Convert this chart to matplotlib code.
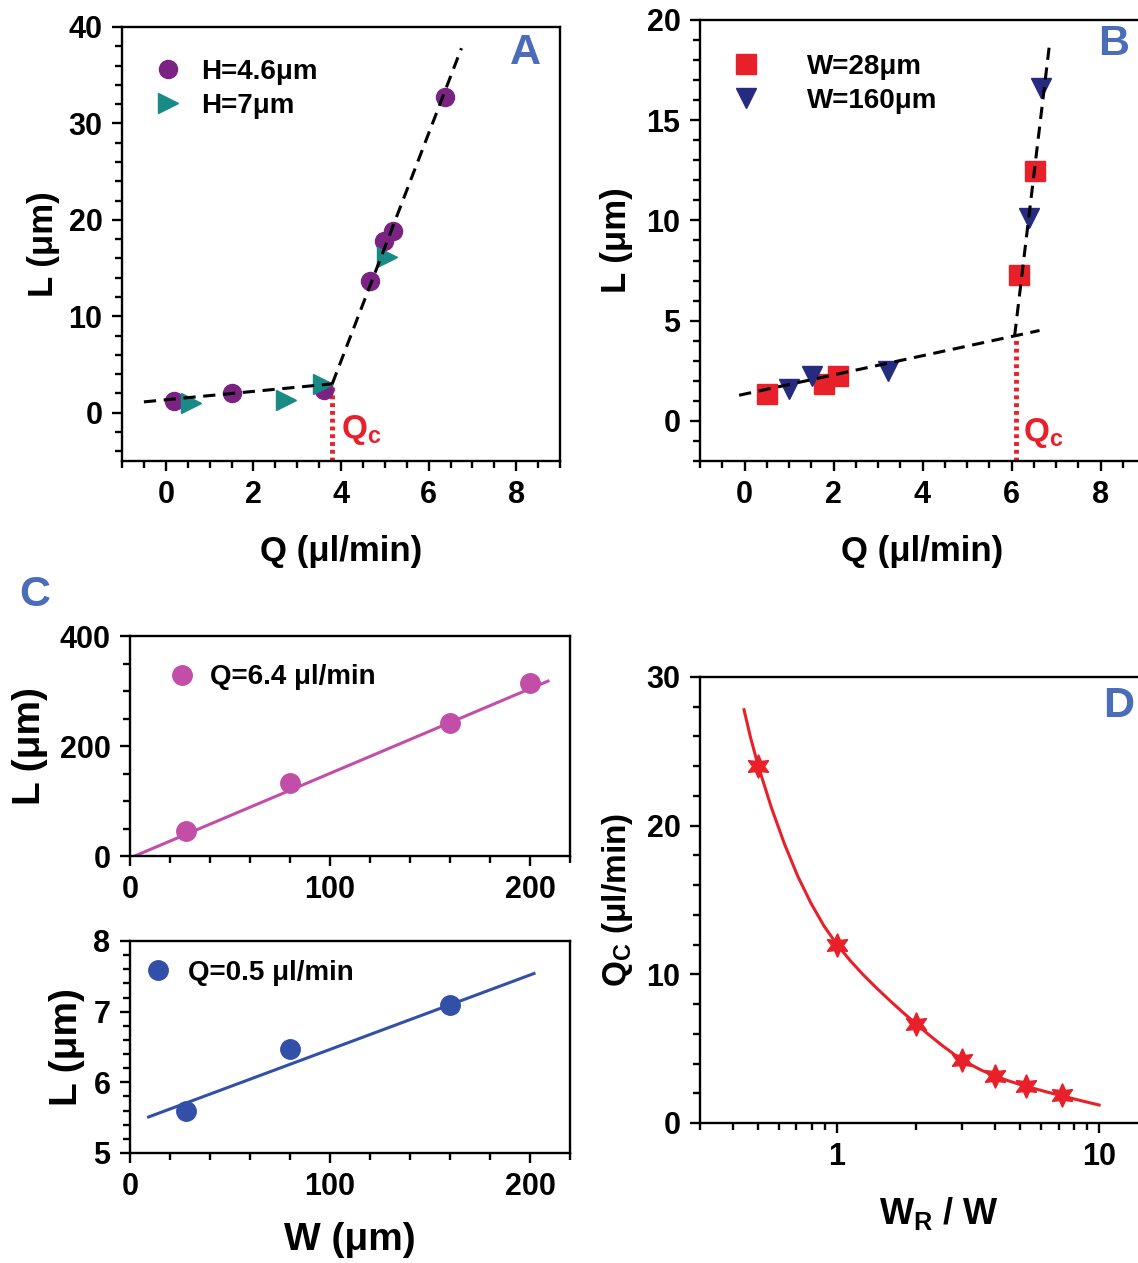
import matplotlib
matplotlib.use("Agg")
import matplotlib.pyplot as plt
import numpy as np
from matplotlib.ticker import MultipleLocator, FixedLocator, FixedFormatter, LogLocator, NullFormatter

plt.rcParams['font.family'] = ['Liberation Sans', 'DejaVu Sans']
plt.rcParams['font.weight'] = 'bold'
plt.rcParams['mathtext.fontset'] = 'custom'
plt.rcParams['mathtext.rm'] = 'Liberation Sans:bold'
plt.rcParams['mathtext.bf'] = 'Liberation Sans:bold'
plt.rcParams['mathtext.it'] = 'Liberation Sans:bold'

# panel A data: L vs Q for two channel heights
qa_h46 = [0.19, 1.51, 3.61, 4.67, 4.98, 5.19, 6.37]
la_h46 = [1.25, 2.0, 2.35, 13.7, 17.8, 18.8, 32.7]
qa_h7 = [0.58, 2.74, 3.6, 5.05]
la_h7 = [1.0, 1.3, 3.0, 16.2]
fitA_low_q = [-0.5, 3.8]
fitA_low_l = [1.13, 3.0]
fitA_high_q = [3.8, 6.75]
fitA_high_l = [3.0, 37.8]
qcA = 3.8

# panel B data: L vs Q for two widths
qb_w28 = [0.5, 1.79, 2.09, 6.17, 6.53]
lb_w28 = [1.35, 1.83, 2.23, 7.3, 12.46]
qb_w160 = [1.01, 1.52, 3.23, 6.4, 6.66]
lb_w160 = [1.59, 2.25, 2.5, 10.1, 16.6]
fitB_low_q = [-0.12, 6.63]
fitB_low_l = [1.28, 4.51]
fitB_high_q = [6.07, 6.86]
fitB_high_l = [4.24, 18.9]
qcB = 6.1

# panel C data: L vs W
wc = [28, 80, 160, 200]
lc_q64 = [45, 133, 242, 315]
fitC1_w = [2.4, 209]
fitC1_l = [0, 318]
wc2 = [28, 80, 160]
lc_q05 = [5.60, 6.47, 7.10]
fitC2_w = [9.3, 202]
fitC2_l = [5.51, 7.54]

# panel D data: critical flow rate vs W_R/W
ratio_d = [0.5, 1.0, 2.0, 3.0, 4.0, 5.25, 7.2]
qc_d = [24.0, 12.0, 6.66, 4.25, 3.16, 2.49, 1.88]
# fitted curve
curve_x = [0.4416, 0.4677, 0.5, 0.5623, 0.631, 0.7079, 0.7943, 0.8913, 1.0,
           1.122, 1.259, 1.413, 1.585, 1.778, 2.0, 2.239, 2.512, 2.818, 3.0,
           3.162, 3.548, 4.0, 4.467, 5.012, 5.248, 5.623, 6.31, 7.2, 7.943, 8.913, 10.0]
curve_y = [27.8, 25.93, 24.04, 21.19, 18.74, 16.61, 14.80, 13.26, 12.0,
           10.93, 9.97, 9.09, 8.26, 7.46, 6.68, 5.94, 5.23, 4.58, 4.26,
           4.02, 3.56, 3.17, 2.86, 2.58, 2.48, 2.33, 2.09, 1.83, 1.64, 1.42, 1.21]

purple = '#7a2382'
teal = '#198a85'
red = '#e8202a'
navy = '#252b7e'
magenta = '#c24ea8'
blue = '#3350a8'
letter_blue = '#4b6cb8'

W, H = 1138, 1263
fig = plt.figure(figsize=(W / 100, H / 100), dpi=100)


def box(l, t, r, b):
    return [l / W, 1 - b / H, (r - l) / W, (b - t) / H]


tick_fs = 22
label_fs = 25
leg_fs = 20


def style(ax):
    for s in ax.spines.values():
        s.set_linewidth(1.7)
    ax.tick_params(which='major', direction='out', length=7, width=1.7,
                   labelsize=tick_fs, top=False, right=False, pad=7)
    ax.tick_params(which='minor', direction='out', length=5, width=1.7,
                   top=False, right=False)
    for lab in ax.get_xticklabels() + ax.get_yticklabels():
        lab.set_fontweight('bold')


dash = (0, (4, 2.5))
leg_prop = {'weight': 'bold', 'size': leg_fs}

# ---- A ----
axA = fig.add_axes(box(122, 27, 560, 461))
axA.plot(fitA_low_q, fitA_low_l, color='black', lw=2.2, ls=dash, zorder=3)
axA.plot(fitA_high_q, fitA_high_l, color='black', lw=2.2, ls=dash, zorder=3)
axA.plot([qcA, qcA], [-5, fitA_low_l[1]], color=red, lw=3.5, ls=(0, (0.8, 0.8)), zorder=1)
axA.plot(qa_h46, la_h46, 'o', color=purple, ms=13, label='H=4.6μm', zorder=2)
axA.plot(qa_h7, la_h7, '>', color=teal, ms=15, label='H=7μm', zorder=2)
axA.text(qcA + 0.2, -2.6, r'$\mathbf{Q_c}$', color=red, fontsize=24, fontweight='bold')
axA.set_xlim(-1, 9)
axA.set_ylim(-5, 40)
axA.xaxis.set_major_locator(FixedLocator([0, 2, 4, 6, 8]))
axA.xaxis.set_minor_locator(MultipleLocator(0.5))
axA.yaxis.set_major_locator(MultipleLocator(10))
axA.yaxis.set_minor_locator(MultipleLocator(2))
axA.set_xlabel('Q (μl/min)', fontsize=label_fs, fontweight='bold', labelpad=18)
axA.set_ylabel('L (μm)', fontsize=label_fs, fontweight='bold', labelpad=6)
axA.legend(loc='upper left', bbox_to_anchor=(0.01, 0.985), frameon=False,
           handlelength=1.2, handletextpad=0.6, labelspacing=0.3, prop=leg_prop)
axA.text(0.92, 0.94, 'A', transform=axA.transAxes, color=letter_blue, fontsize=31,
         fontweight='bold', ha='center', va='center')
style(axA)

# ---- B ----
axB = fig.add_axes(box(700, 20, 1145, 461))
axB.plot(fitB_low_q, fitB_low_l, color='black', lw=2.2, ls=dash, zorder=3)
axB.plot(fitB_high_q, fitB_high_l, color='black', lw=2.2, ls=dash, zorder=3)
axB.plot([qcB, qcB], [-2, fitB_high_l[0]], color=red, lw=3.5, ls=(0, (0.8, 0.8)), zorder=1)
axB.plot(qb_w28, lb_w28, 's', color=red, ms=15, label='W=28μm', zorder=2)
axB.plot(qb_w160, lb_w160, 'v', color=navy, ms=15, label='W=160μm', zorder=2)
axB.text(qcB + 0.15, -1.0, r'$\mathbf{Q_c}$', color=red, fontsize=24, fontweight='bold')
axB.set_xlim(-1, 9)
axB.set_ylim(-2, 20)
axB.xaxis.set_major_locator(FixedLocator([0, 2, 4, 6, 8]))
axB.xaxis.set_minor_locator(MultipleLocator(0.5))
axB.yaxis.set_major_locator(MultipleLocator(5))
axB.yaxis.set_minor_locator(MultipleLocator(1))
axB.set_xlabel('Q (μl/min)', fontsize=label_fs, fontweight='bold', labelpad=18)
axB.set_ylabel('L (μm)', fontsize=label_fs, fontweight='bold', labelpad=10)
axB.legend(loc='upper left', bbox_to_anchor=(0.01, 0.98), frameon=False,
           handlelength=1.2, handletextpad=1.6, labelspacing=0.3, prop=leg_prop)
axB.text(0.93, 0.945, 'B', transform=axB.transAxes, color=letter_blue, fontsize=31,
         fontweight='bold', ha='center', va='center')
style(axB)

# ---- C top ----
axC1 = fig.add_axes(box(130, 636, 570, 856))
axC1.plot(fitC1_w, fitC1_l, color=magenta, lw=2.2)
axC1.plot(wc, lc_q64, 'o', color=magenta, ms=14, label='Q=6.4 μl/min')
axC1.set_xlim(0, 220)
axC1.set_ylim(0, 400)
axC1.xaxis.set_major_locator(FixedLocator([0, 100, 200]))
axC1.xaxis.set_minor_locator(MultipleLocator(20))
axC1.yaxis.set_major_locator(MultipleLocator(200))
axC1.yaxis.set_minor_locator(MultipleLocator(50))
axC1.set_ylabel('L (μm)', fontsize=label_fs + 3, fontweight='bold', labelpad=8)
axC1.legend(loc='upper left', bbox_to_anchor=(0.03, 0.985), frameon=False,
            handlelength=1.0, handletextpad=0.5, prop=leg_prop)
style(axC1)
fig.text(35 / W, 1 - 595 / H, 'C', color=letter_blue, fontsize=31, fontweight='bold',
         ha='center', va='center')

# ---- C bottom ----
axC2 = fig.add_axes(box(130, 941, 570, 1153))
axC2.plot(fitC2_w, fitC2_l, color=blue, lw=2.2)
axC2.plot(wc2, lc_q05, 'o', color=blue, ms=14, label='Q=0.5 μl/min')
axC2.set_xlim(0, 220)
axC2.set_ylim(5, 8)
axC2.xaxis.set_major_locator(FixedLocator([0, 100, 200]))
axC2.xaxis.set_minor_locator(MultipleLocator(20))
axC2.yaxis.set_major_locator(MultipleLocator(1))
axC2.yaxis.set_minor_locator(MultipleLocator(0.2))
axC2.set_xlabel('W (μm)', fontsize=label_fs + 3, fontweight='bold', labelpad=14)
axC2.set_ylabel('L (μm)', fontsize=label_fs + 3, fontweight='bold', labelpad=6)
axC2.legend(loc='upper left', bbox_to_anchor=(-0.025, 1.03), frameon=False,
            handlelength=1.0, handletextpad=0.6, prop=leg_prop)
style(axC2)

# ---- D ----
axD = fig.add_axes(box(700, 677, 1178, 1123))
axD.plot(curve_x, curve_y, color=red, lw=2.2)
axD.plot(ratio_d, qc_d, marker=(6, 1, 0), ls='none', color=red, ms=17)
axD.set_xscale('log')
axD.set_xlim(0.3, 20)
axD.set_ylim(0, 30)
axD.xaxis.set_major_locator(FixedLocator([1, 10]))
axD.xaxis.set_major_formatter(FixedFormatter(['1', '10']))
axD.xaxis.set_minor_locator(LogLocator(base=10, subs=np.arange(2, 10)))
axD.xaxis.set_minor_formatter(NullFormatter())
axD.yaxis.set_major_locator(MultipleLocator(10))
axD.yaxis.set_minor_locator(MultipleLocator(2))
axD.set_xlabel(r'$\mathbf{W_R}$ / W', fontsize=label_fs + 1, fontweight='bold', labelpad=16)
axD.set_ylabel(r'$\mathbf{Q_C}$ (μl/min)', fontsize=label_fs - 1, fontweight='bold', labelpad=8)
axD.text(0.875, 0.935, 'D', transform=axD.transAxes, color=letter_blue, fontsize=31,
         fontweight='bold', ha='center', va='center')
style(axD)

fig.savefig('out.png', dpi=100)
